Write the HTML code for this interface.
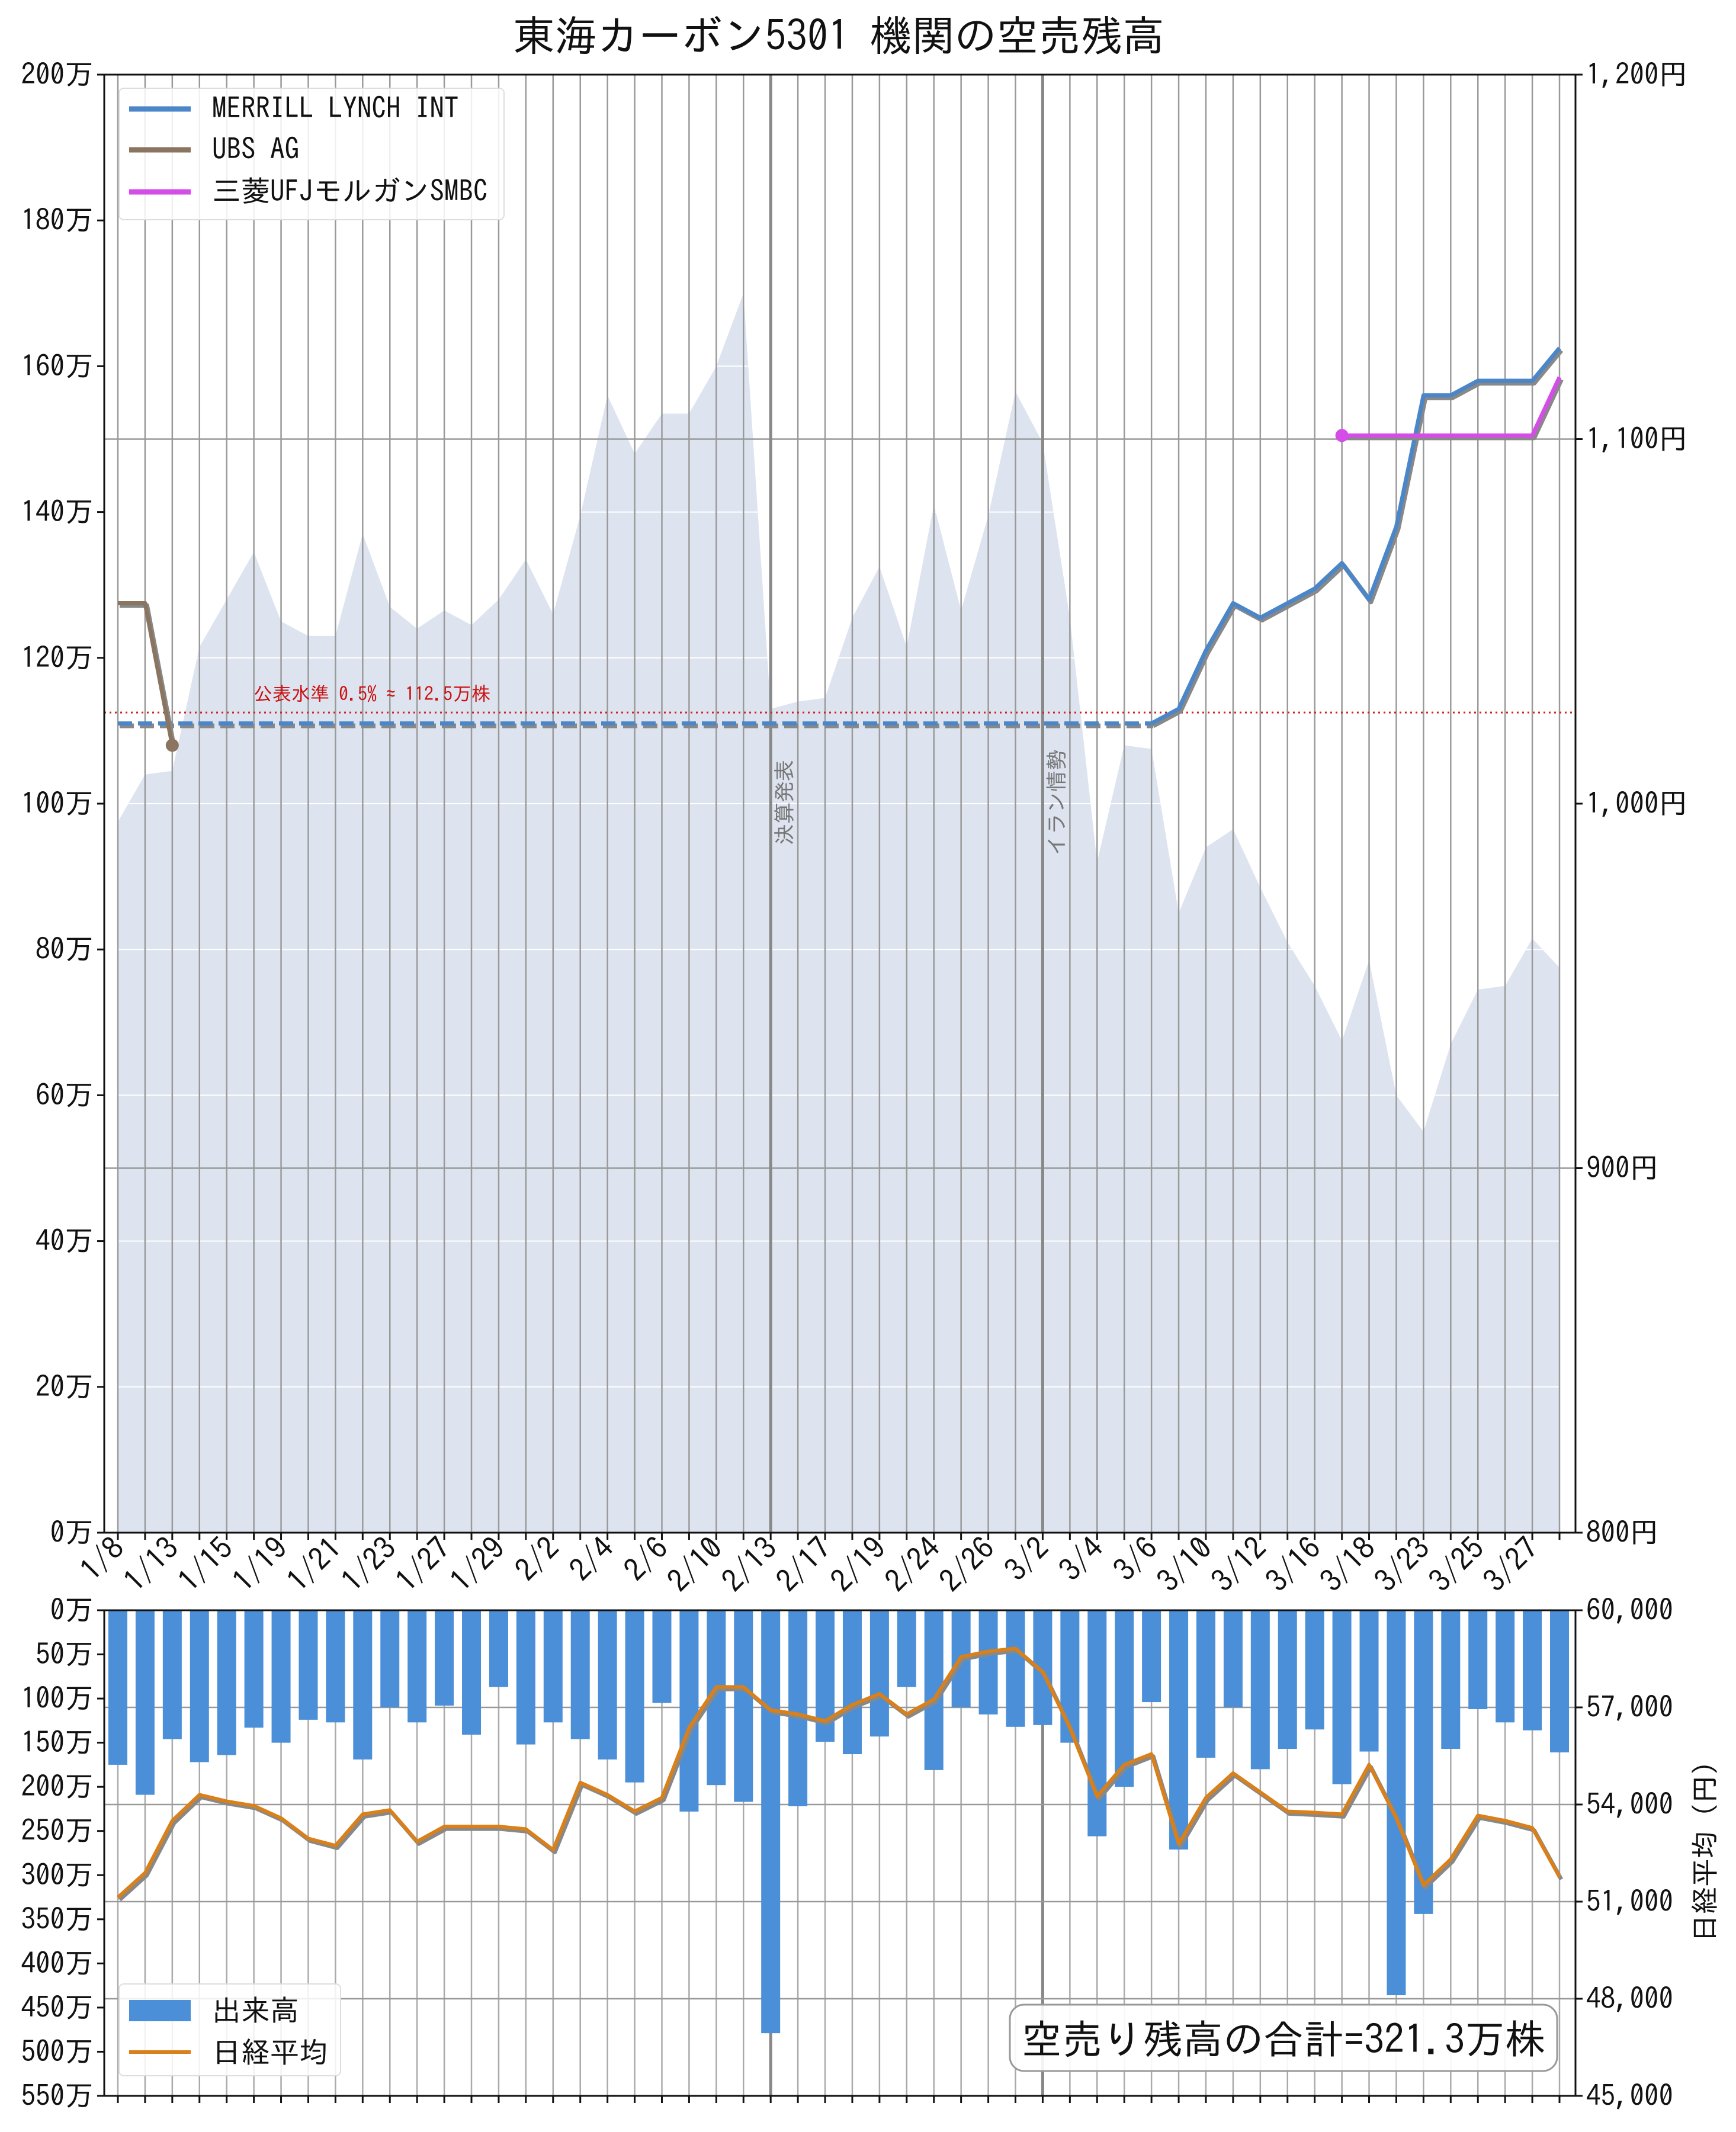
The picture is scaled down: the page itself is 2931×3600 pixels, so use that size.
<!DOCTYPE html>
<html><head><meta charset="utf-8"><style>
html,body{margin:0;padding:0;background:#fff;}
svg{display:block;font-family:"IPAGothic","Noto Sans CJK JP",monospace;}
</style></head><body>
<svg id="chart" xmlns="http://www.w3.org/2000/svg" width="2931" height="3600" viewBox="0 0 2931 3600"></svg>
<script>
const dates=["1/8","1/9","1/13","1/14","1/15","1/16","1/19","1/20","1/21","1/22","1/23","1/26","1/27","1/28","1/29","1/30","2/2","2/3","2/4","2/5","2/6","2/9","2/10","2/12","2/13","2/16","2/17","2/18","2/19","2/20","2/24","2/25","2/26","2/27","3/2","3/3","3/4","3/5","3/6","3/9","3/10","3/11","3/12","3/13","3/16","3/17","3/18","3/19","3/23","3/24","3/25","3/26","3/27","3/30"];
const price=[995,1008,1009,1043,1056,1069,1050,1046,1046,1074,1054,1048,1053,1049,1056,1067,1052,1079,1112,1096,1107,1107,1120,1140,1026,1028,1029,1051,1065,1043,1082,1053,1079,1113,1099,1051,984,1016,1015,970,988,993,977,962,950,935,957,920,910,934,949,950,963,955];
const volume=[175,209,146,172,164,133,150,124,127,169,110,127,108,141,87,152,127,146,169,195,105,228,198,217,479,222,149,163,143,87,181,110,118,132,130,150,256,200,104,271,167,110,180,157,135,197,160,436,344,157,112,127,136,161];
const nikkei=[51130,51890,53500,54300,54100,53960,53580,52950,52730,53700,53830,52860,53320,53320,53320,53240,52600,54680,54300,53790,54210,56370,57630,57630,56920,56790,56580,57080,57420,56790,57250,58560,58730,58820,58100,56370,54250,55230,55560,52780,54210,54970,54380,53790,53750,53700,55230,53580,51510,52310,53660,53500,53280,51760];
const merrillDashed=[111,111];
const merrillIdx=[38,39,40,41,42,43,44,45,46,47,48,49,50,51,52,53];
const merrill=[111,113,121,127.5,125.5,127.5,129.5,133,128,138,156,156,158,158,158,162.5];
const ubsIdx=[0,1,2];
const ubs=[127.5,127.5,108];
const mufgIdx=[45,46,47,48,49,50,51,52,53];
const mufg=[150.5,150.5,150.5,150.5,150.5,150.5,150.5,150.5,158.5];
const leftTicks=[0,20,40,60,80,100,120,140,160,180,200];
const rightTicks=[800,900,1000,1100,1200];
const volTicks=[0,50,100,150,200,250,300,350,400,450,500,550];
const nkTicks=[45000,48000,51000,54000,57000,60000];
const threshold=112.5;

const NS="http://www.w3.org/2000/svg";
const svg=document.getElementById('chart');
const L=176,R=2660,T=126,B=2588,T2=2719,B2=3539;
const X=i=>199+i*(2633-199)/(dates.length-1);
const yL=v=>B-v*(B-T)/200;
const yR=p=>B-(p-800)*(B-T)/400;
const yV=v=>T2+v*(B2-T2)/550;
const yN=n=>T2+(60000-n)*(B2-T2)/15000;
function el(tag,attrs,parent){const e=document.createElementNS(NS,tag);for(const k in attrs)e.setAttribute(k,attrs[k]);(parent||svg).appendChild(e);return e;}
function txt(s,attrs,parent){const e=el('text',attrs,parent);e.textContent=s;return e;}

let t=txt("東海カーボン5301 機関の空売残高",{x:1416,y:86,'font-size':71,'text-anchor':'middle',fill:'#111'});



let d="M"+X(0)+","+B;
price.forEach((p,i)=>{d+=" L"+X(i)+","+yR(p);});
d+=" L"+X(price.length-1)+","+B+" Z";
let area=el('path',{d:d,fill:'#dde4ef'});



leftTicks.forEach(v=>{el('line',{x1:L,x2:R,y1:yL(v),y2:yL(v),stroke:'#fff','stroke-width':2});});
[900,1100].forEach(p=>{el('line',{x1:L,x2:R,y1:yR(p),y2:yR(p),stroke:'#999','stroke-width':2.5});});
dates.forEach((s,i)=>{
  const dark=(i===24||i===34);
  el('line',{x1:X(i),x2:X(i),y1:T,y2:B,stroke:dark?'#888':'#9a9a9a','stroke-width':dark?5:2.5});
  el('line',{x1:X(i),x2:X(i),y1:T2,y2:B2,stroke:dark?'#888':'#aaa','stroke-width':dark?5:2.5});
});
t=txt("決算発表",{x:0,y:0,'font-size':36,fill:'#777',transform:`translate(${X(24)+36},1355) rotate(-90)`,'text-anchor':'middle'});


t=txt("イラン情勢",{x:0,y:0,'font-size':36,fill:'#777',transform:`translate(${X(34)+36},1355) rotate(-90)`,'text-anchor':'middle'});



let th=el('line',{x1:L,x2:R,y1:yL(threshold),y2:yL(threshold),stroke:'#cc2222','stroke-width':3,'stroke-dasharray':'3,6'});


t=txt("公表水準 0.5% ≈ 112.5万株",{x:428,y:1183,'font-size':32,fill:'#cc1111'});



function series(idx,vals,color,name,dashed,dot){
  const g=el('g',{});
  
  
  const pts=idx.map((i,k)=>X(i)+","+yL(vals[k])).join(" ");
  el('polyline',{points:pts,fill:'none',stroke:'#888','stroke-width':8,transform:'translate(3,4)','stroke-dasharray':dashed?'24,10':'none','stroke-linejoin':'round'},g);
  el('polyline',{points:pts,fill:'none',stroke:color,'stroke-width':7,'stroke-dasharray':dashed?'24,10':'none','stroke-linejoin':'round'},g);
  if(dot){const k=dot==='end'?idx.length-1:0;el('circle',{cx:X(idx[k]),cy:yL(vals[k]),r:11,fill:color},g);}
}
series([0,38],merrillDashed,'#4a86c8','merrill-dashed-line',true,null);
series(merrillIdx,merrill,'#4a86c8','merrill-line',false,null);
series(ubsIdx,ubs,'#8b7560','ubs-line',false,'end');
series(mufgIdx,mufg,'#d54ce8','mufg-line',false,'start');

el('rect',{x:L,y:T,width:R-L,height:B-T,fill:'none',stroke:'#111','stroke-width':3});
leftTicks.forEach(v=>{
  el('line',{x1:L-12,x2:L,y1:yL(v),y2:yL(v),stroke:'#111','stroke-width':3});
  t=txt(v+"万",{x:L-18,y:yL(v)+17,'font-size':49,'text-anchor':'end',fill:'#111'});
  
  
});
rightTicks.forEach(p=>{
  el('line',{x1:R,x2:R+12,y1:yR(p),y2:yR(p),stroke:'#111','stroke-width':3});
  t=txt(p.toLocaleString('en-US')+"円",{x:R+18,y:yR(p)+17,'font-size':49,fill:'#111'});
  
  
});
dates.forEach((s,i)=>{
  el('line',{x1:X(i),x2:X(i),y1:B,y2:B+12,stroke:'#111','stroke-width':3});
  if(i%2===0){
    t=txt(s,{x:0,y:0,'font-size':52,'text-anchor':'end',fill:'#111',transform:`translate(${X(i)+14},${B+30}) rotate(-45)`});
    
    
  }
});

const lg=el('g',{});


el('rect',{x:201,y:149,width:650,height:222,rx:8,fill:'#fff','fill-opacity':0.85,stroke:'#ddd','stroke-width':2},lg);
[['MERRILL LYNCH INT','#4a86c8'],['UBS AG','#8b7560'],['三菱UFJモルガンSMBC','#d54ce8']].forEach((e,k)=>{
  const y=183+k*69+(k===2?2:0);
  el('line',{x1:218,x2:322,y1:y+1,y2:y+1,stroke:e[1],'stroke-width':9},lg);
  txt(e[0],{x:358,y:y+17,'font-size':49,fill:'#111'},lg);
});

nkTicks.forEach(n=>{el('line',{x1:L,x2:R,y1:yN(n),y2:yN(n),stroke:'#999','stroke-width':2.5});});
volume.forEach((v,i)=>{
  const b=el('rect',{x:X(i)-16,y:T2,width:32,height:yV(v)-T2,fill:'#4a8fd8'});
  
  
});
const npts=nikkei.map((n,i)=>X(i)+","+yN(n)).join(" ");
el('polyline',{points:npts,fill:'none',stroke:'#888','stroke-width':7,transform:'translate(3,4)','stroke-linejoin':'round'});
let nl=el('polyline',{points:npts,fill:'none',stroke:'#d9801a','stroke-width':6,'stroke-linejoin':'round'});


el('rect',{x:L,y:T2,width:R-L,height:B2-T2,fill:'none',stroke:'#111','stroke-width':3});
volTicks.forEach(v=>{
  el('line',{x1:L-12,x2:L,y1:yV(v),y2:yV(v),stroke:'#111','stroke-width':3});
  t=txt(v+"万",{x:L-18,y:yV(v)+17,'font-size':49,'text-anchor':'end',fill:'#111'});
  
  
});
nkTicks.forEach(n=>{
  el('line',{x1:R,x2:R+12,y1:yN(n),y2:yN(n),stroke:'#111','stroke-width':3});
  t=txt(n.toLocaleString('en-US'),{x:R+18,y:yN(n)+17,'font-size':49,fill:'#111'});
  
  
});
dates.forEach((s,i)=>{el('line',{x1:X(i),x2:X(i),y1:B2,y2:B2+12,stroke:'#111','stroke-width':3});});
t=txt("日経平均（円）",{x:0,y:0,'font-size':47,'text-anchor':'middle',fill:'#111',transform:`translate(2895,3115) rotate(-90)`});



const bl=el('g',{});


el('rect',{x:201,y:3350,width:374,height:155,rx:8,fill:'#fff','fill-opacity':0.85,stroke:'#ddd','stroke-width':2},bl);
el('rect',{x:218,y:3377,width:104,height:36,fill:'#4a8fd8'},bl);
txt("出来高",{x:358,y:3412,'font-size':49,fill:'#111'},bl);
el('line',{x1:218,x2:322,y1:3465,y2:3465,stroke:'#d9801a','stroke-width':6},bl);
txt("日経平均",{x:358,y:3483,'font-size':49,fill:'#111'},bl);

const tb=el('g',{});


el('rect',{x:1705,y:3385,width:924,height:112,rx:24,fill:'#fff','fill-opacity':0.9,stroke:'#999','stroke-width':3},tb);
txt("空売り残高の合計=321.3万株",{x:2167,y:3468,'font-size':68,'text-anchor':'middle',fill:'#111'},tb);
</script>
</body></html>
